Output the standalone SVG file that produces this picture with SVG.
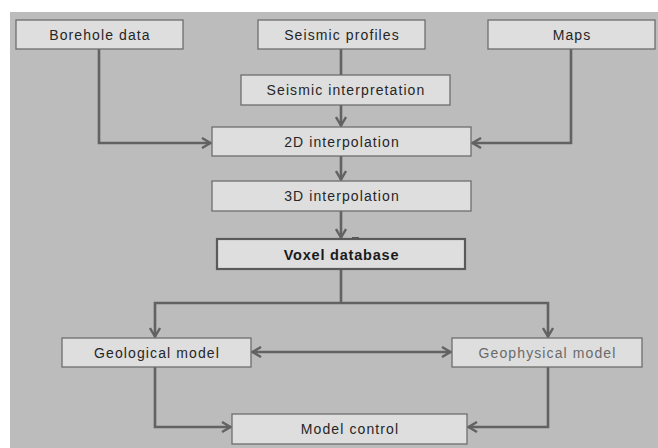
<svg xmlns="http://www.w3.org/2000/svg" width="658" height="448" viewBox="0 0 658 448">
  <style>
    .box { fill: #dedede; stroke: #6e6e6e; stroke-width: 1.3; }
    .bold { stroke-width: 2.2; stroke: #5a5a5a; }
    .lbl { font-family: "Liberation Sans", Arial, sans-serif; font-size: 14px; fill: #262626; text-anchor: middle; letter-spacing: 1.1px; }
    .lbl.strong { font-weight: bold; font-size: 14.5px; letter-spacing: 0.8px; fill: #1a1a1a; }
    .lbl.light { fill: #6a6a6a; }
    .wire { fill: none; stroke: #626262; stroke-width: 2.6; }
  </style>
  <defs>
    <marker id="chev" viewBox="0 0 12 12" refX="11" refY="6" markerWidth="12" markerHeight="12" markerUnits="userSpaceOnUse" orient="auto-start-reverse">
      <path d="M2,1 L10.5,6 L2,11" fill="none" stroke="#626262" stroke-width="2.4"/>
    </marker>
  </defs>

  <rect x="0" y="0" width="658" height="448" fill="#ffffff"/>
  <rect x="10" y="12" width="648" height="436" fill="#bcbcbc"/>

  <g id="connectors">
    <path class="wire" d="M99,49 V143 H211" marker-end="url(#chev)"/>
    <path class="wire" d="M341,49 V75"/>
    <path class="wire" d="M341,105 V126" marker-end="url(#chev)"/>
    <path class="wire" d="M571,49 V143 H472" marker-end="url(#chev)"/>
    <path class="wire" d="M341,156 V180" marker-end="url(#chev)"/>
    <path class="wire" d="M341,211 V238" marker-end="url(#chev)"/>
    <path class="wire" d="M341,269 V303"/>
    <path class="wire" d="M155,337 V303 H548 V337" marker-start="url(#chev)" marker-end="url(#chev)"/>
    <path class="wire" d="M252,352 H451" marker-start="url(#chev)" marker-end="url(#chev)"/>
    <path class="wire" d="M155,367 V427 H231" marker-end="url(#chev)"/>
    <path class="wire" d="M548,367 V427 H468" marker-end="url(#chev)"/>
    <line x1="352" y1="238" x2="359" y2="238" stroke="#3a3a3a" stroke-width="1.5"/>
  </g>

  <g id="borehole">
    <rect class="box" x="16" y="20" width="167" height="29"/>
    <text class="lbl" x="100" y="39.5">Borehole data</text>
  </g>
  <g id="seismic-profiles">
    <rect class="box" x="258" y="20" width="167" height="29"/>
    <text class="lbl" x="342" y="39.5">Seismic profiles</text>
  </g>
  <g id="maps">
    <rect class="box" x="488" y="20" width="167" height="29"/>
    <text class="lbl" x="572" y="39.5">Maps</text>
  </g>
  <g id="seismic-interpretation">
    <rect class="box" x="241" y="75" width="209" height="30"/>
    <text class="lbl" x="346" y="95">Seismic interpretation</text>
  </g>
  <g id="interp-2d">
    <rect class="box" x="212" y="127" width="259" height="29"/>
    <text class="lbl" x="342" y="146.5">2D interpolation</text>
  </g>
  <g id="interp-3d">
    <rect class="box" x="212" y="181" width="259" height="30"/>
    <text class="lbl" x="342" y="201">3D interpolation</text>
  </g>
  <g id="voxel-db">
    <rect class="box bold" x="217" y="239" width="248" height="30"/>
    <text class="lbl strong" x="341.5" y="259.5">Voxel database</text>
  </g>
  <g id="geological-model">
    <rect class="box" x="62" y="338" width="189" height="29"/>
    <text class="lbl" x="157" y="357.5">Geological model</text>
  </g>
  <g id="geophysical-model">
    <rect class="box" x="452" y="338" width="190" height="29"/>
    <text class="lbl light" x="547.5" y="357.5">Geophysical model</text>
  </g>
  <g id="model-control">
    <rect class="box" x="232" y="414" width="235" height="30"/>
    <text class="lbl" x="350" y="434">Model control</text>
  </g>
</svg>
